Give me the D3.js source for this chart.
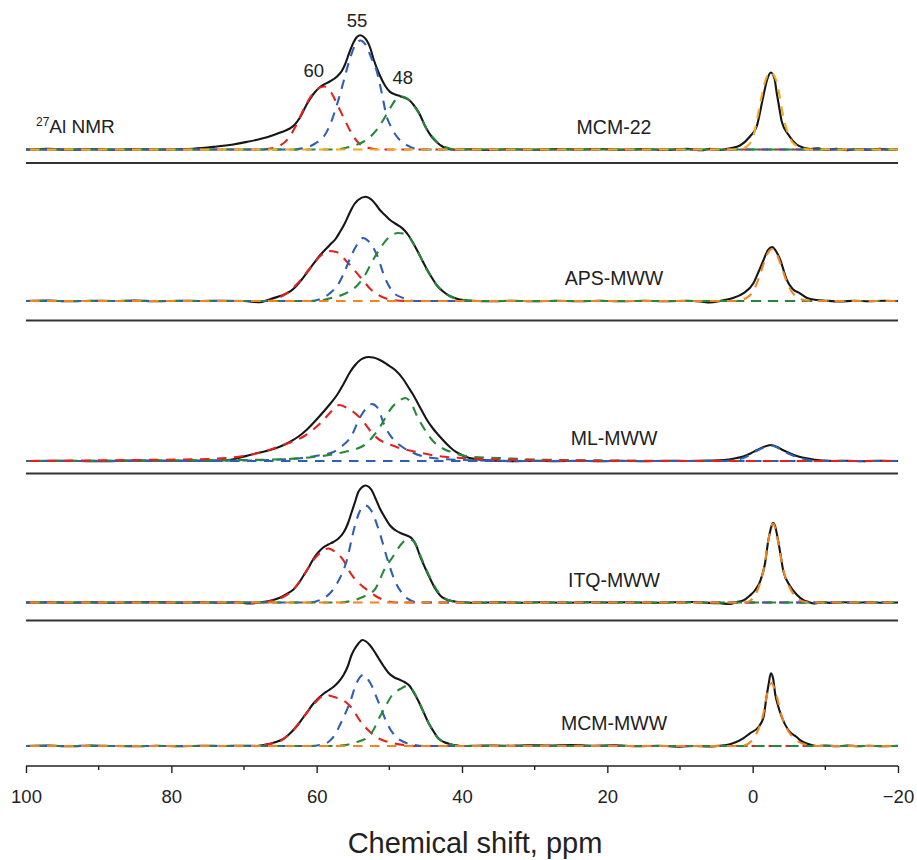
<!DOCTYPE html>
<html>
<head>
<meta charset="utf-8">
<script src="https://cdn.jsdelivr.net/npm/d3@7/dist/d3.min.js"></script>
<style>
  html, body { margin: 0; padding: 0; background: #fff; }
  svg { display: block; font-family: "Liberation Sans", Arial, Helvetica, sans-serif; }
</style>
</head>
<body>
<svg id="chart" width="917" height="860"></svg>
<script>
// ---- axis ticks ----
const ppmTicks = [100, 80, 60, 40, 20, 0, -20];
const ppmMinorTicks = [90, 70, 50, 30, 10, -10];
const sampleNames = ["MCM-22", "APS-MWW", "ML-MWW", "ITQ-MWW", "MCM-MWW"];
const peakLabelsMCM22 = [60, 55, 48];

// ---- experimental 27Al spectra: [ppm, intensity] ----
const expMCM22 = [[100,0],[97,0.6],[94,-0.3],[91,0.5],[88,-0.2],[85,0.4],[82,0],[79,0.3],[77,0.8],[74.2,2.6],[71.5,5],[69.6,7.6],[67.8,10.5],[66,14.3],[64.8,17.5],[63.7,21],[63,25],[62.3,32],[61.3,46],[60.5,55],[59.6,62],[59.1,64.5],[58.2,68],[57.2,73],[56.5,79],[56.1,85],[55.5,97],[54.9,107.6],[54.4,113],[54,114.3],[53.6,113],[53.1,109],[52.6,101],[52.2,91],[51.3,74],[50.6,64],[49.9,57.6],[49.2,55],[48.5,53.3],[47.8,51.5],[47.2,49],[46.6,44],[46,37.6],[44.9,21],[44.2,13],[43.5,7.6],[42.8,3.5],[42.1,1],[41,-0.3],[39,0.2],[36,-0.4],[33,0.3],[30,-0.2],[27,0.4],[24,0],[21,0.5],[18,-0.3],[15,0.4],[12,-0.4],[9,0.6],[7,-0.8],[5.9,0.8],[4.5,-0.5],[3.1,1.2],[1.75,4],[0.37,13],[-0.55,23],[-1.46,53],[-2,70],[-2.5,77],[-3,71],[-3.3,57],[-3.7,40],[-4,28],[-4.9,15],[-6.05,5],[-6.9,2],[-8,0.5],[-9,1.2],[-10,-0.5],[-11.5,0.8],[-13,-0.6],[-14.5,0.5],[-16,-0.3],[-17.5,0.6],[-19,-0.2],[-20,0.3]];
const expAPS = [[100,0],[97,0.4],[94,-0.3],[91,0.3],[88,0],[85,0.4],[82,-0.2],[79,0.3],[76,0],[73,0.3],[70,0],[67.8,-1.3],[66.8,0.8],[66,2.7],[64.8,5.5],[63.7,9.3],[63,13.5],[62.3,19.3],[60.9,32.7],[59.5,46],[58.2,56],[57.4,62],[56.8,69],[56.1,78],[55.4,89],[54.8,97],[54.3,101],[53.3,104.3],[52.4,101],[51.8,96],[51.3,91],[50.6,86],[49.9,81],[49.2,77.5],[48.5,74.3],[47.9,70.5],[47.4,66],[46.8,59],[46.2,51],[45.5,41],[44.9,32.7],[44.2,24],[43.5,16],[42.6,9.5],[41.7,5],[40.7,2.3],[39.8,1],[38.5,0.2],[36,-0.3],[33,0.3],[30,-0.3],[27,0.2],[24,-0.2],[21,0.3],[18,-0.3],[15,0.2],[12,-0.2],[9,0.2],[7.2,-0.5],[5.9,-1.5],[4.5,0],[2.7,3],[1.3,7.7],[-0.1,17.7],[-0.8,29],[-1.5,41],[-2.1,51],[-2.7,54],[-3.2,50],[-3.8,41],[-4.7,21],[-5.5,12],[-6.5,7.7],[-7.5,3],[-8.8,1],[-10,0.3],[-12,-0.5],[-14,0.2],[-16,-0.3],[-18,0.3],[-20,0]];
const expML = [[100,0],[95,0.3],[90,-0.3],[85,0.4],[80,0.2],[76,0.3],[73.5,0.5],[71.9,1.2],[70.5,3.5],[69.2,6],[67.8,8.5],[66.4,11],[65,14.5],[63.7,19],[62.5,24.5],[61.4,31],[60.2,40],[59.1,49],[58.1,57.5],[57.2,66],[56.3,77],[55.4,89],[54.7,96],[54,101],[53.5,103],[52.9,104],[52.2,103.5],[51.3,101],[50.3,96.5],[49.2,91],[48.1,82],[47.4,74],[46.7,66],[45.8,54],[44.9,42],[44,32.5],[43,24],[42.1,17],[41.2,11],[40.3,7],[39.4,4],[38.2,2],[37.1,1],[35.5,0.3],[33,-0.2],[30,0.3],[27,-0.1],[24,0.2],[21,-0.2],[18,0.3],[15,-0.2],[12,0.2],[9,0],[6,0.4],[4,1],[2.5,2.5],[1.3,4.5],[0.3,7.5],[-0.55,10.7],[-1.5,14],[-2.5,16],[-3.4,14],[-4.2,10.7],[-5.2,7.5],[-6.3,4.5],[-7.4,2.7],[-8.5,1.3],[-9.7,0.5],[-11,0],[-13,0.2],[-15,-0.2],[-17,0.2],[-20,0]];
const expITQ = [[100,0],[97,0.3],[94,-0.2],[91,0.3],[88,-0.3],[85,0.2],[82,0.4],[79,-0.2],[76,0.3],[73,-0.2],[71,0.2],[69.2,-1],[68,0],[66.9,1],[66,2.5],[65,5],[64,9],[63.2,13],[62.5,19],[61.8,27],[61.1,35],[60.5,43],[59.8,50],[59.1,55],[58.4,58],[57.7,60.5],[57,64],[56.3,70],[55.7,79],[55.2,90],[54.7,101],[54.3,110],[53.8,115],[53.3,117],[52.8,115.5],[52.4,112],[51.9,104],[51.3,94],[50.6,85],[49.9,77],[49.1,72],[48.3,69],[47.6,67],[46.9,64],[46.3,57],[45.8,47],[45.1,35],[44.4,24],[43.7,14],[43,7],[42.3,3.5],[41.7,2],[40.8,0.8],[39.9,0.3],[38,-0.3],[35,0.3],[32,-0.2],[29,0.2],[26,-0.3],[23,0.3],[20,0],[17,0.3],[14,-0.3],[11,0.2],[8,0.5],[6,-0.4],[4.5,-0.8],[3.1,-1.5],[2.2,0.5],[1.3,2],[0.37,7],[-0.3,12],[-1,20.6],[-1.7,39],[-2.15,62],[-2.5,74],[-2.8,79.6],[-3.1,76],[-3.5,62],[-3.9,45],[-4.2,32],[-5.1,17],[-6.05,8],[-7,2.3],[-7.7,0.5],[-8.4,-1],[-9.5,0.2],[-11,-0.5],[-12.5,0.3],[-14,-0.3],[-16,0.2],[-18,-0.2],[-20,0]];
const expMCMMWW = [[100,0],[97,0.4],[94,-0.3],[91,0.5],[88,0],[85,-0.3],[82,0.3],[79,-0.2],[76,0.3],[73,0],[70,0.2],[68.3,0],[67.3,1],[66.4,2.3],[65.5,4.3],[64.6,7],[63.9,11],[63.2,16],[62.5,22],[61.8,29],[61.1,36],[60.5,42],[59.8,47.5],[59.1,52],[58.4,55.5],[57.7,59],[57,64],[56.3,71],[55.7,80],[55.2,91],[54.7,98],[54.3,102],[53.7,106],[53.2,104.5],[52.7,101],[52.1,95],[51.5,88],[50.8,80],[50.1,73],[49.3,68.5],[48.5,66],[47.8,63.5],[47.2,60],[46.6,53],[46,45],[45.3,34],[44.6,23],[43.9,14.5],[43.3,8],[42.5,4],[41.7,2],[40.8,0.7],[40,0],[37,0.5],[34,0.3],[31,0.8],[28,0.4],[25,0.9],[22,0.3],[19,0.6],[16,-0.2],[13,0.3],[10,-0.6],[8,0],[6,-0.5],[4.5,0.3],[3.6,1],[2.7,2.7],[1.3,7.7],[0.37,12.7],[-0.8,19],[-1.5,29],[-1.9,49],[-2.2,62],[-2.5,72.7],[-2.8,68],[-3.1,52],[-3.5,40],[-4,29],[-4.9,16],[-6.05,9],[-6.7,5],[-7.4,2.7],[-8.8,0],[-10,0.5],[-11.5,-0.3],[-13,0.4],[-14.5,-0.2],[-16,0.3],[-18,-0.2],[-20,0.2]];

// ---- fitted components: [ppm, intensity] ----
// MCM-22
const fitMCM22Al60 = [[100,0],[68,0],[66,1.5],[65,4],[63.8,12],[62.7,26],[61.8,40],[60.9,52],[60,60],[58.9,63],[58,57],[57.3,47],[56.3,32],[55.1,15],[54,5],[52.5,1],[51,0],[-20,0]];
const fitMCM22Al55 = [[100,0],[63,0],[61.8,1.5],[61,3],[60.2,6],[59,13],[58.2,24],[57.2,45],[56.3,68],[55.5,89],[54.8,103],[54,109],[53.3,105],[52.5,92],[51.8,80],[51,55],[50.4,34],[49.8,23],[48.5,9],[47.5,4],[46.5,1],[45,0],[-20,0]];
const fitMCM22Al48 = [[100,0],[58,0],[56.4,1],[55,3.5],[53.5,8],[52.3,15],[51.4,23],[50.8,30],[50,40],[49.2,49],[48.5,53],[47.8,52],[47.2,49],[46,37],[44.9,21],[44,12],[43.2,6],[42.1,2],[41,0],[-20,0]];
const fitMCM22AlOct = [[100,0],[3,0],[1.5,1],[0.5,5],[0,11],[-0.6,30],[-1.2,52],[-1.8,70],[-2.5,77],[-3.2,70],[-3.6,58],[-4,41],[-4.6,22],[-5.3,9],[-6,4],[-7,1],[-8,0],[-20,0]];
// APS-MWW
const fitAPSAl60 = [[100,0],[67,0],[65.5,2.5],[64.5,6],[62.7,17],[60.9,33],[59.5,45],[58.3,50],[57.3,49],[55.8,39],[53.9,23],[52.6,12],[51.5,6],[49.5,1],[47,0],[-20,0]];
const fitAPSAl55 = [[100,0],[61,0],[59.5,2],[58.3,7],[57,17],[56.3,27],[55.2,46],[54.3,58],[53.6,63],[52.9,60],[51.7,46],[50.6,23],[49.5,9],[48.1,3],[46.5,0],[-20,0]];
const fitAPSAl48 = [[100,0],[60,0],[58,3],[55.9,8],[54.5,15],[53.6,23],[52,44],[50,64],[48.8,68],[47.8,67],[46.2,51],[44.9,32],[43.5,16],[41.7,5],[39.8,1],[38,0],[-20,0]];
const fitAPSAlOct = [[100,0],[3,0],[2,0.5],[1,2.5],[0,9],[-0.8,22],[-1.5,37],[-2.1,48],[-2.7,52],[-3.3,47],[-3.9,36],[-4.7,19],[-5.5,8],[-6.3,3],[-7.5,0.5],[-9,0],[-20,0]];
// ML-MWW
const fitMLAl60 = [[100,0],[85,1],[75,2],[71,4],[68,8],[65,15],[61.7,25],[59.3,39],[57.8,51],[56.9,56],[55.8,53],[54,43],[52,25],[49,14],[46.2,9],[43.4,5],[40,3],[35,1.5],[25,0.5],[10,0],[-20,0]];
const fitMLAl55 = [[100,0],[70,0.5],[65,1.5],[62,3],[60.2,5],[57.7,9],[56.5,15],[55.3,24],[54,44],[53,54],[52.4,57],[51.6,53],[50.7,36],[49.5,22],[48.4,15],[46.7,8],[44,3],[40,1],[30,0],[-20,0]];
const fitMLAl48 = [[100,0],[80,0.5],[70,1],[64,2],[60.5,4],[56.8,8],[53.4,16],[52.2,25],[51.3,34],[49.6,54],[48.5,61],[47.8,63],[47,58],[46.2,45],[45,30],[44,20],[42.5,12],[41.1,8],[38.4,4],[35,3],[30,1.5],[20,0.5],[10,0],[-20,0]];
const fitMLAlOct = [[100,0],[4,0],[2.5,1],[1.3,3],[0.3,6.5],[-0.5,10],[-1.5,13.5],[-2.5,15.5],[-3.4,13.5],[-4.2,10],[-5.2,6.5],[-6.3,3.5],[-7.4,1.5],[-9,0.3],[-11,0],[-20,0]];
// ITQ-MWW
const fitITQAl60 = [[100,0],[68,0],[66,2],[64.5,6],[63.2,13],[61.8,27],[60.5,42],[59.3,51],[58.4,54],[57.5,51],[56.3,42],[55.4,30],[54.3,20],[53.3,14],[52,7],[50.6,2],[49,0],[-20,0]];
const fitITQAl55 = [[100,0],[61,0],[59.4,3],[58.2,9],[57.2,19],[55.9,41],[54.8,75],[54.2,89],[53.3,97],[52.5,92],[51.3,69],[50.3,44],[49.2,21],[48.2,9],[47.3,3],[46,0],[-20,0]];
const fitITQAl48 = [[100,0],[57,0],[55,2],[53.5,6],[52,13],[50.6,34],[49.5,46],[48.8,54],[47.8,62],[47.2,63],[46.5,60],[45.8,48],[44.4,25],[43,8],[41.7,2],[40,0],[-20,0]];
const fitITQAlOct = [[100,0],[1,0],[0.3,2],[-0.3,7],[-1,19],[-1.7,40],[-2.15,62],[-2.8,79],[-3.5,61],[-4.2,33],[-5.1,15],[-6,5],[-7,1],[-8,0],[-20,0]];
// MCM-MWW
const fitMCMMWWAl60 = [[100,0],[69,0],[66.4,2],[64.6,7],[63.2,16],[61.8,29],[60.5,41],[59.4,49],[58.6,51],[57.6,49],[56,44],[55.3,39],[53.8,23],[52.5,13],[51.3,7],[49.5,3],[48,1],[46,0],[-20,0]];
const fitMCMMWWAl55 = [[100,0],[61,0],[59.5,1],[58.4,4],[57.5,11],[56.8,21],[55.4,44],[54.5,63],[53.6,71],[52.7,64],[51.5,44],[50.2,21],[49.2,10],[48,4],[46.5,1],[45,0],[-20,0]];
const fitMCMMWWAl48 = [[100,0],[58,0],[56,1],[54.5,4],[53.1,8],[52.2,16],[51.4,28],[50.5,40],[49.7,50],[48.5,57],[47.6,60],[46.8,56],[46,45],[44.6,23],[43.3,8],[41.7,2],[40,0],[-20,0]];
const fitMCMMWWAlOct = [[100,0],[2,0],[1,1],[0.3,4],[-0.8,17],[-1.5,33],[-2,52],[-2.6,63],[-3.1,55],[-4,30],[-4.9,15],[-6,6],[-7,2],[-8,0.5],[-9,0],[-20,0]];

// ---- colours ----
const RED = "#e4211d", BLUE = "#2e5fb5", GREEN = "#26883a", AMBER = "#f4aa1c", ORANGE = "#f2851d";

// panels table assembled from the arrays above (components listed bottom to top)
const panels = [
  { name: sampleNames[0], exp: expMCM22, comps: [[fitMCM22Al60, RED], [fitMCM22Al55, BLUE], [fitMCM22Al48, GREEN], [fitMCM22AlOct, AMBER]] },
  { name: sampleNames[1], exp: expAPS, comps: [[fitAPSAl60, RED], [fitAPSAl55, BLUE], [fitAPSAl48, GREEN], [fitAPSAlOct, ORANGE]] },
  { name: sampleNames[2], exp: expML, comps: [[fitMLAlOct, BLUE], [fitMLAl55, BLUE], [fitMLAl48, GREEN], [fitMLAl60, RED]] },
  { name: sampleNames[3], exp: expITQ, comps: [[fitITQAl60, RED], [fitITQAl55, BLUE], [fitITQAl48, GREEN], [fitITQAlOct, ORANGE]] },
  { name: sampleNames[4], exp: expMCMMWW, comps: [[fitMCMMWWAl60, RED], [fitMCMMWWAl55, BLUE], [fitMCMMWWAl48, GREEN], [fitMCMMWWAlOct, ORANGE]] }
];

// ---- layout ----
const svg = d3.select("#chart");
const x = d3.scaleLinear().domain([100, -20]).range([26, 898]);
const y = d3.scaleLinear().domain([0, 100]).range([0, -100]);
const baselines = [149.5, 301, 461, 602.5, 746];
const separators = [163, 320.5, 473.5, 620.5];
const axisY = 766;

const line = d3.line()
  .x(d => x(d[0]))
  .y(d => y(d[1]))
  .curve(d3.curveMonotoneX);

const dashOffsets = [0, 4.5, 9, 13];

panels.forEach((p, i) => {
  const g = svg.append("g").attr("transform", `translate(0,${baselines[i]})`);
  g.append("path")
    .attr("d", line(p.exp))
    .attr("fill", "none")
    .attr("stroke", "#161616")
    .attr("stroke-width", 2.1)
    .attr("stroke-linejoin", "round");
  p.comps.forEach((c, k) => {
    g.append("path")
      .attr("d", line(c[0]))
      .attr("fill", "none")
      .attr("stroke", c[1])
      .attr("stroke-width", 2.1)
      .attr("stroke-dasharray", "9.5,7.5")
      .attr("stroke-dashoffset", dashOffsets[k]);
  });
  g.append("text")
    .attr("x", 614)
    .attr("y", -16)
    .attr("text-anchor", "middle")
    .attr("font-size", 19.5)
    .attr("fill", "#222")
    .text(p.name);
});

// panel separators
svg.selectAll("line.sep").data(separators).enter().append("line")
  .attr("class", "sep")
  .attr("x1", x(100)).attr("x2", x(-20))
  .attr("y1", d => d).attr("y2", d => d)
  .attr("stroke", "#333").attr("stroke-width", 2);

// peak position labels on the MCM-22 trace
const peakDx = [-3, 4, -1];
const peakY = [77, 27, 84];
svg.selectAll("text.peak").data(peakLabelsMCM22).enter().append("text")
  .attr("class", "peak")
  .attr("x", (d, i) => x(d) + peakDx[i])
  .attr("y", (d, i) => peakY[i])
  .attr("text-anchor", "middle")
  .attr("font-size", 18.5)
  .attr("fill", "#222")
  .text(d => d);

// nucleus label
const nuc = svg.append("text").attr("x", 36).attr("y", 133.3).attr("fill", "#222");
nuc.append("tspan").attr("font-size", 12).attr("dy", -7.5).text("27");
nuc.append("tspan").attr("font-size", 19).attr("dy", 7.5).text("Al NMR");

// x axis
const axis = d3.axisBottom(x)
  .tickValues(ppmTicks)
  .tickSize(7)
  .tickPadding(17)
  .tickFormat(d => d < 0 ? "\u2212" + Math.abs(d) : String(d));
const ax = svg.append("g").attr("transform", `translate(0,${axisY})`).call(axis);
ax.select(".domain").attr("stroke", "#222").attr("stroke-width", 1.6).attr("d", `M${x(100)},0H${x(-20)}`);
ax.selectAll(".tick line").attr("stroke", "#222").attr("stroke-width", 1.4);
ax.selectAll(".tick text").attr("font-size", 18.5).attr("fill", "#222").attr("font-family", "Liberation Sans, Arial, sans-serif");
ax.selectAll("line.minor").data(ppmMinorTicks).enter().append("line")
  .attr("class", "minor")
  .attr("x1", d => x(d)).attr("x2", d => x(d))
  .attr("y1", 0).attr("y2", 4)
  .attr("stroke", "#222").attr("stroke-width", 1.4);

svg.append("text")
  .attr("x", 475)
  .attr("y", 853)
  .attr("text-anchor", "middle")
  .attr("font-size", 29)
  .attr("fill", "#222")
  .text("Chemical shift, ppm");
</script>
</body>
</html>
